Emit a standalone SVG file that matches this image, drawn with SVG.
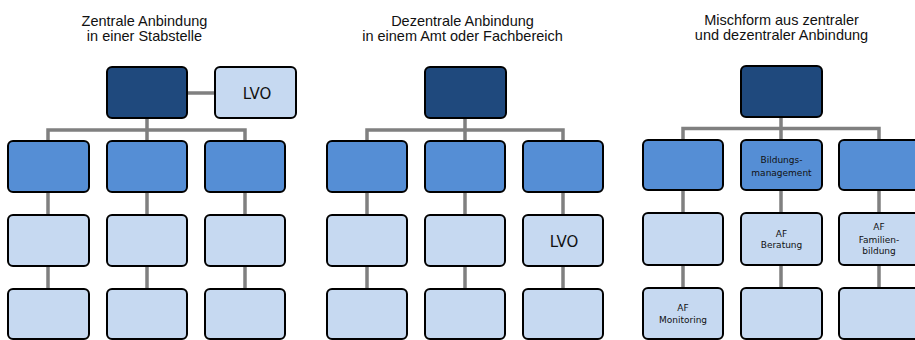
<svg xmlns="http://www.w3.org/2000/svg" width="915" height="340" viewBox="0 0 915 340">
<style>
.title{font-family:"Liberation Sans",Arial,sans-serif;font-size:14.5px;fill:#111;text-anchor:middle}
.box{stroke:#000;stroke-width:2}
.dark{fill:#1f497d}
.mid{fill:#558ed5}
.light{fill:#c6d9f1}
.con{fill:none;stroke:#808080;stroke-width:3.5}
.lbl{font-family:"DejaVu Sans",Verdana,sans-serif;font-size:15px;fill:#111;text-anchor:middle}
.sm{font-family:"DejaVu Sans",Verdana,sans-serif;font-size:9px;fill:#111;text-anchor:middle}
</style>
<rect width="915" height="340" fill="#fff"/>
<g id="titles">
<text class="title" x="144.5" y="25.5">Zentrale Anbindung</text>
<text class="title" x="144.5" y="41">in einer Stabstelle</text>
<text class="title" x="462.5" y="25.5">Dezentrale Anbindung</text>
<text class="title" x="462.5" y="41">in einem Amt oder Fachbereich</text>
<text class="title" x="781.5" y="25">Mischform aus zentraler</text>
<text class="title" x="781.5" y="40">und dezentraler Anbindung</text>
</g>
<g id="connectors">
<path class="con" d="M147 118V130M48 141V130H245V141M147 130V141M187 93H215"/>
<path class="con" d="M48 192V215M48 266V289M147 192V215M147 266V289M245 192V215M245 266V289"/>
<path class="con" d="M465 118V130M367 141V130H563V141M465 130V141"/>
<path class="con" d="M367 192V215M367 266V289M465 192V215M465 266V289M563 192V215M563 266V289"/>
<path class="con" d="M781 117V128.5M683 140V128.5H879V140M781 128.5V140"/>
<path class="con" d="M683 190V213M683 265V288M781 190V213M781 265V288M879 190V213M879 265V288"/>
</g>
<g id="p1-top"><rect class="box dark" x="107" y="67" width="80" height="51" rx="5"/></g>
<g id="p1-lvo"><rect class="box light" x="215" y="67" width="81" height="51" rx="5"/><text class="lbl" x="257" y="98.5">LVO</text></g>
<g id="p1-a2"><rect class="box mid" x="8" y="141" width="81" height="51" rx="5"/></g>
<g id="p1-b2"><rect class="box mid" x="107" y="141" width="80" height="51" rx="5"/></g>
<g id="p1-c2"><rect class="box mid" x="205" y="141" width="80" height="51" rx="5"/></g>
<g id="p1-a3"><rect class="box light" x="8" y="215" width="81" height="51" rx="5"/></g>
<g id="p1-b3"><rect class="box light" x="107" y="215" width="80" height="51" rx="5"/></g>
<g id="p1-c3"><rect class="box light" x="205" y="215" width="80" height="51" rx="5"/></g>
<g id="p1-a4"><rect class="box light" x="8" y="289" width="81" height="50" rx="5"/></g>
<g id="p1-b4"><rect class="box light" x="107" y="289" width="80" height="50" rx="5"/></g>
<g id="p1-c4"><rect class="box light" x="205" y="289" width="80" height="50" rx="5"/></g>

<g id="p2-top"><rect class="box dark" x="425" y="67" width="81" height="51" rx="5"/></g>
<g id="p2-a2"><rect class="box mid" x="327" y="141" width="80" height="51" rx="5"/></g>
<g id="p2-b2"><rect class="box mid" x="425" y="141" width="80" height="51" rx="5"/></g>
<g id="p2-c2"><rect class="box mid" x="523" y="141" width="80" height="51" rx="5"/></g>
<g id="p2-a3"><rect class="box light" x="327" y="215" width="80" height="51" rx="5"/></g>
<g id="p2-b3"><rect class="box light" x="425" y="215" width="80" height="51" rx="5"/></g>
<g id="p2-c3"><rect class="box light" x="523" y="215" width="80" height="51" rx="5"/><text class="lbl" x="564" y="246.5">LVO</text></g>
<g id="p2-a4"><rect class="box light" x="327" y="289" width="80" height="50" rx="5"/></g>
<g id="p2-b4"><rect class="box light" x="425" y="289" width="80" height="50" rx="5"/></g>
<g id="p2-c4"><rect class="box light" x="523" y="289" width="80" height="50" rx="5"/></g>

<g id="p3-top"><rect class="box dark" x="741" y="66" width="81" height="51" rx="5"/></g>
<g id="p3-a2"><rect class="box mid" x="643" y="140" width="80" height="50" rx="5"/></g>
<g id="p3-b2"><rect class="box mid" x="741" y="140" width="81" height="50" rx="5"/><text class="sm" x="781.5" y="163.3">Bildungs-</text><text class="sm" x="781.5" y="175.7">management</text></g>
<g id="p3-c2"><rect class="box mid" x="839" y="140" width="80" height="50" rx="5"/></g>
<g id="p3-a3"><rect class="box light" x="643" y="213" width="80" height="52" rx="5"/></g>
<g id="p3-b3"><rect class="box light" x="741" y="213" width="81" height="52" rx="5"/><text class="sm" x="781.5" y="236.7">AF</text><text class="sm" x="781.5" y="248.3">Beratung</text></g>
<g id="p3-c3"><rect class="box light" x="839" y="213" width="80" height="52" rx="5"/><text class="sm" x="879" y="230">AF</text><text class="sm" x="879" y="242.7">Familien-</text><text class="sm" x="879" y="254.3">bildung</text></g>
<g id="p3-a4"><rect class="box light" x="643" y="288" width="80" height="51" rx="5"/><text class="sm" x="683" y="311">AF</text><text class="sm" x="683" y="322.7">Monitoring</text></g>
<g id="p3-b4"><rect class="box light" x="741" y="288" width="81" height="51" rx="5"/></g>
<g id="p3-c4"><rect class="box light" x="839" y="288" width="80" height="51" rx="5"/></g>
</svg>
